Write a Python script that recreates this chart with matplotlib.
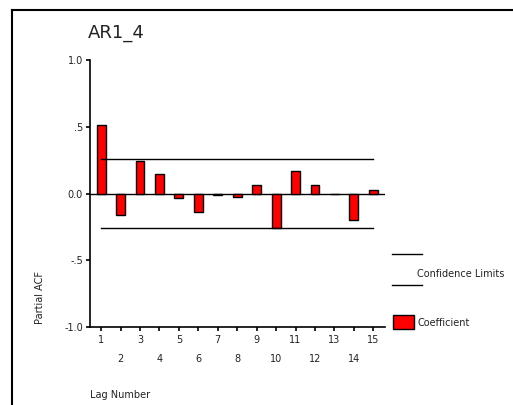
import numpy as np
import matplotlib
matplotlib.use('Agg')
import matplotlib.pyplot as plt
from matplotlib.lines import Line2D
from matplotlib.patches import Rectangle

lags = np.arange(1, 16)
pacf = [0.51, -0.16, 0.24, 0.145, -0.03, -0.14, -0.01, -0.025, 0.06, -0.26, 0.17, 0.06, -0.005, -0.20, 0.025]
conf_upper = 0.262
conf_lower = -0.258
yticks = [-1.0, -0.5, 0.0, 0.5, 1.0]
yticklabels = ['-1.0', '-.5', '0.0', '.5', '1.0']

plt.rcParams['font.family'] = ['DejaVu Sans']
txtcol = '#222222'

fig = plt.figure(figsize=(5.13, 4.05), dpi=100)
ax = fig.add_axes([90/513, 1-327/405, 295/513, 267/405])

ax.bar(lags, pacf, width=0.46, color='#ff0000', edgecolor='black', linewidth=1.0, zorder=3)
ax.axhline(0, color='black', linewidth=1.0, zorder=2)
ax.plot([lags[0], lags[-1]], [conf_upper, conf_upper], color='black', linewidth=1.0, zorder=4)
ax.plot([lags[0], lags[-1]], [conf_lower, conf_lower], color='black', linewidth=1.0, zorder=4)

ax.set_xlim(0.43, 15.6)
ax.set_ylim(-1.0, 1.0)
ax.spines['top'].set_visible(False)
ax.spines['right'].set_visible(False)
ax.spines['left'].set_linewidth(1.2)
ax.spines['bottom'].set_linewidth(1.2)
ax.set_yticks(yticks)
ax.set_yticklabels(yticklabels)
ax.set_xticks(lags)
ax.set_xticklabels([])
ax.tick_params(direction='out', length=3, width=1.2, labelsize=7, colors='black', labelcolor=txtcol, pad=2)
for lag in lags:
    yy = -13/267 if lag % 2 == 1 else -32/267
    ax.text(lag, yy, str(lag), transform=ax.get_xaxis_transform(), ha='center', va='center', fontsize=7, color=txtcol)

fig.text(88/513, 1-33/405, 'AR1_4', fontsize=13, color=txtcol, ha='left', va='center')
fig.text(40/513, 1-298/405, 'Partial ACF', fontsize=7, color=txtcol, rotation=90, ha='center', va='center')
fig.text(90/513, 1-395/405, 'Lag Number', fontsize=7, color=txtcol, ha='left', va='center')

# legend drawn by hand
fig.add_artist(Line2D([392/513, 422/513], [1-254/405, 1-254/405], color='black', linewidth=1.0))
fig.add_artist(Line2D([392/513, 422/513], [1-285/405, 1-285/405], color='black', linewidth=1.0))
fig.text(417/513, 1-274/405, 'Confidence Limits', fontsize=7, color=txtcol, ha='left', va='center')
fig.add_artist(Rectangle((393/513, 1-329/405), 21/513, 14/405, transform=fig.transFigure,
                         facecolor='#ff0000', edgecolor='black', linewidth=1.0))
fig.text(417/513, 1-323/405, 'Coefficient', fontsize=7, color=txtcol, ha='left', va='center')

# outer frame
fig.add_artist(Line2D([12/513, 1.0], [1-10/405, 1-10/405], color='black', linewidth=1.5))
fig.add_artist(Line2D([12/513, 12/513], [0.0, 1-10/405], color='black', linewidth=1.5))

fig.savefig('out.png', dpi=100)
